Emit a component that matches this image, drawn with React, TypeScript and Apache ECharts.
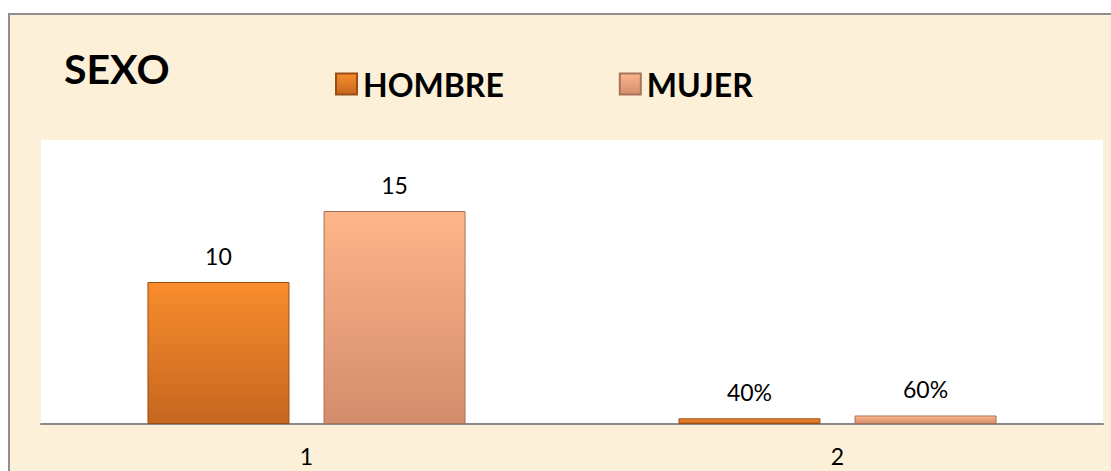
import React, { useEffect, useRef } from "react";
import * as echarts from "echarts";

const categories = ["1", "2"];
const seriesNames = ["HOMBRE", "MUJER"];
const hombreValues = [10, 0.4];
const mujerValues = [15, 0.6];
const hombreLabels = ["10", "40%"];
const mujerLabels = ["15", "60%"];
const titleText = "SEXO";

const FONT = "Lato, 'Open Sans', sans-serif";

const hombreFill = new echarts.graphic.LinearGradient(0, 0, 0, 1, [
  { offset: 0, color: "#F98D2D" },
  { offset: 1, color: "#C5661F" },
]);
const mujerFill = new echarts.graphic.LinearGradient(0, 0, 0, 1, [
  { offset: 0, color: "#FEB58A" },
  { offset: 1, color: "#D38D6C" },
]);

export default function App() {
  const ref = useRef<HTMLDivElement>(null);
  useEffect(() => {
    if (!ref.current) return;
    const chart = echarts.init(ref.current, undefined, { renderer: "svg" });
    const labelStyle = (labels: string[]) => ({
      show: true,
      position: "top" as const,
      distance: 15,
      fontFamily: FONT,
      fontSize: 23,
      color: "#000",
      formatter: (p: any) => labels[p.dataIndex],
    });
    chart.setOption({
      animation: false,
      backgroundColor: "#ffffff",
      textStyle: { fontFamily: FONT },
      graphic: [
        {
          type: "rect",
          z: -10,
          silent: true,
          shape: { x: 9, y: 14, width: 1200, height: 600 },
          style: { fill: "#FCF0D9", stroke: "#8E8E8E", lineWidth: 2 },
        },
      ],
      title: {
        text: titleText,
        left: 64,
        top: 48,
        padding: 0,
        textStyle: {
          fontFamily: FONT,
          fontWeight: "bold",
          fontSize: 41,
          color: "#000",
        },
      },
      legend: {
        data: seriesNames,
        left: 335,
        top: 68,
        padding: 0,
        itemWidth: 21,
        itemHeight: 21,
        itemGap: 115,
        icon: "rect",
        textStyle: {
          fontFamily: FONT,
          fontWeight: "bold",
          fontSize: 32,
          color: "#000",
          padding: [0, 0, 0, 1],
        },
      },
      grid: {
        left: 41,
        top: 140,
        right: 8,
        bottom: 47,
        show: true,
        backgroundColor: "#ffffff",
        borderWidth: 0,
        containLabel: false,
      },
      xAxis: {
        type: "category",
        data: categories,
        axisTick: { show: false },
        axisLine: { show: true, lineStyle: { color: "#8A8A8A", width: 2 } },
        axisLabel: {
          fontFamily: FONT,
          fontSize: 23,
          color: "#000",
          margin: 20,
        },
      },
      yAxis: {
        type: "value",
        min: 0,
        max: 20,
        show: false,
        splitLine: { show: false },
      },
      series: [
        {
          name: seriesNames[0],
          type: "bar",
          data: hombreValues,
          barWidth: 142,
          barGap: "24%",
          itemStyle: {
            color: hombreFill,
            borderColor: "#9A4E17",
            borderWidth: 1,
          },
          label: labelStyle(hombreLabels),
        },
        {
          name: seriesNames[1],
          type: "bar",
          data: mujerValues,
          barWidth: 142,
          barGap: "24%",
          itemStyle: {
            color: mujerFill,
            borderColor: "#A8735A",
            borderWidth: 1,
          },
          label: labelStyle(mujerLabels),
        },
      ],
    });
    return () => chart.dispose();
  }, []);
  return (
    <div
      ref={ref}
      style={{ position: "absolute", left: 0, top: 0, width: 1111, height: 471 }}
    />
  );
}
